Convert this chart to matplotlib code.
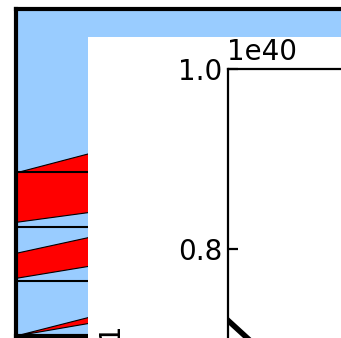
import matplotlib
matplotlib.use('Agg')
import matplotlib.pyplot as plt

W, H = 341, 338

# outer panel: slanted red bands between pairs of lines
band_x = [0, 2]
band_lower = [[0.0, 0.46], [1.06, 1.50], [2.09, 2.45]]
band_upper = [[0.0, 0.68], [1.52, 2.10], [3.0, 3.70]]
level_lines = [1, 2, 3]

# inner axes: one falling line, values in units of 1e40
line_x = [0, 0.5]
line_y = [0.7206e40, 0.633e40]
inner_ticks = [0.8e40, 1.0e40]


def frac_box(left, top, right, bottom):
    # pixel box -> figure fraction [l, b, w, h]
    return [left / W, 1 - bottom / H, (right - left) / W, (bottom - top) / H]


fig = plt.figure(figsize=(W / 200, H / 200), dpi=200)

outer = fig.add_axes(frac_box(15.5, 9.3, 360, 335.5))
outer.set_facecolor('#99ccff')
for lo, up in zip(band_lower, band_upper):
    outer.fill_between(band_x, lo, up, facecolor='red', edgecolor='black', linewidth=0.4)
for lv in level_lines:
    outer.axhline(lv, color='black', linewidth=0.75)
outer.set_xlim(0, (360 - 15.5) / 72.5)
outer.set_ylim(0, 6)
outer.set_xticks([])
outer.set_yticks([])
for s in outer.spines.values():
    s.set_linewidth(1.5)

# white panel covering the right part
panel = fig.add_axes(frac_box(88, 37, 380, 380))
panel.set_facecolor('white')
panel.set_xticks([])
panel.set_yticks([])
for s in panel.spines.values():
    s.set_visible(False)

fig.text(118 / W, 1 - 340 / H, '1', rotation=90, rotation_mode='anchor',
         ha='left', va='baseline', fontsize=10)

inner = fig.add_axes(frac_box(227.5, 68.5, 420, 428.5))
inner.plot(line_x, line_y, color='black', linewidth=2)
inner.set_xlim(0, (420 - 227.5) / 172.5)
inner.set_ylim(0.6e40, 1.0e40)
inner.set_yticks(inner_ticks)
inner.set_xticks([])
inner.tick_params(axis='y', direction='in', pad=2)
inner.spines['right'].set_visible(False)

fig.savefig('out.png', dpi=200)
